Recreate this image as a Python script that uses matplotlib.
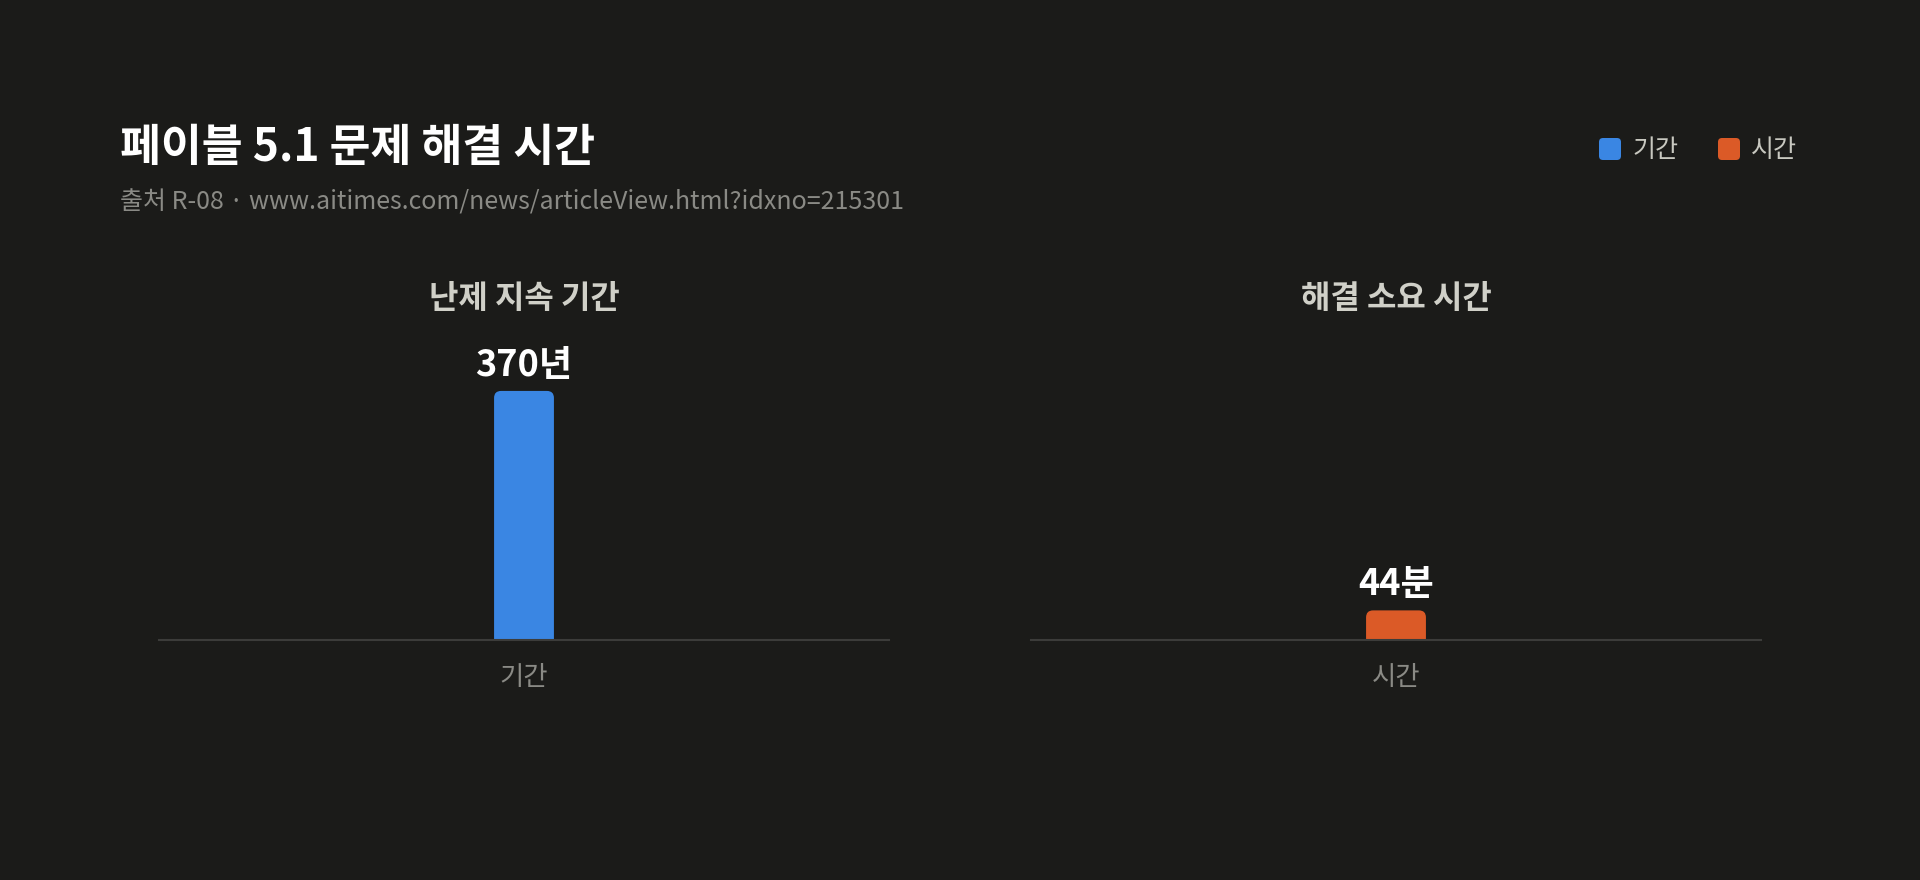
import matplotlib.pyplot as plt
from matplotlib.patches import FancyBboxPatch

plt.rcParams['font.family'] = ['Noto Sans CJK KR', 'DejaVu Sans']

# data
categories = ['기간', '시간']
values = [370, 44]
units = ['년', '분']
panel_titles = ['난제 지속 기간', '해결 소요 시간']
colors = ['#3a86e3', '#db5a27']

title = '페이블 5.1 문제 해결 시간'
subtitle = '출처 R-08 · www.aitimes.com/news/articleView.html?idxno=215301'

bg = '#1b1b19'
W, H = 1920, 880

fig = plt.figure(figsize=(W / 100, H / 100), dpi=100, facecolor=bg)

fig.text(120 / W, 1 - 148 / H, title, color='white', fontsize=32,
         fontweight='bold', ha='left', va='center')
fig.text(120 / W, 1 - 202 / H, subtitle, color='#8a8a85', fontsize=18,
         ha='left', va='center')

# legend with rounded squares
leg_x = [1599, 1718]
for cat, col, lx in zip(categories, colors, leg_x):
    sq = FancyBboxPatch((lx / W, 1 - 160 / H), 22 / W, 22 / H,
                        boxstyle='round,pad=0,rounding_size=%f' % (4 / W),
                        mutation_aspect=W / H, transform=fig.transFigure,
                        facecolor=col, edgecolor='none')
    fig.patches.append(sq)
    fig.text((lx + 33) / W, 1 - 150 / H, cat, color='#c8c8c0', fontsize=18,
             ha='left', va='center')

axes_left = [159, 1031]
ax_w = 730
ax_h = 311
base_y = 640
ymax = 462
bar_w = 0.082

for i in range(len(categories)):
    ax = fig.add_axes([axes_left[i] / W, 1 - base_y / H, ax_w / W, ax_h / H])
    ax.set_facecolor(bg)
    ax.set_xlim(-0.5, 0.5)
    ax.set_ylim(0, ymax)

    bars = ax.bar([0], [values[i]], width=bar_w, color=colors[i])
    # swap plain rectangles for rounded-top ones
    x_per_px = 1.0 / ax_w
    y_per_px = ymax / ax_h
    for b in bars:
        b.set_visible(False)
        r = FancyBboxPatch((b.get_x(), -20 * y_per_px), b.get_width(),
                           b.get_height() + 20 * y_per_px,
                           boxstyle='round,pad=0,rounding_size=%f' % (7 * x_per_px),
                           mutation_aspect=y_per_px / x_per_px,
                           facecolor=colors[i], edgecolor='none')
        ax.add_patch(r)

    ax.annotate(f'{values[i]}{units[i]}', xy=(0, values[i]), xytext=(0, 11),
                textcoords='offset points', ha='center', va='baseline',
                color='white', fontsize=26, fontweight='bold')

    for s in ['top', 'left', 'right']:
        ax.spines[s].set_visible(False)
    ax.spines['bottom'].set_color('#3c3c3a')
    ax.spines['bottom'].set_linewidth(1.5)
    ax.set_yticks([])
    ax.set_xticks([0])
    ax.set_xticklabels([categories[i]], color='#8a8a85', fontsize=19)
    ax.tick_params(axis='x', length=0, pad=17)

    cx = (axes_left[i] + ax_w / 2) / W
    fig.text(cx, 1 - 299 / H, panel_titles[i], color='#d0d0c8', fontsize=23,
             fontweight='bold', ha='center', va='center')

fig.savefig('out.png', dpi=100, facecolor=bg)
